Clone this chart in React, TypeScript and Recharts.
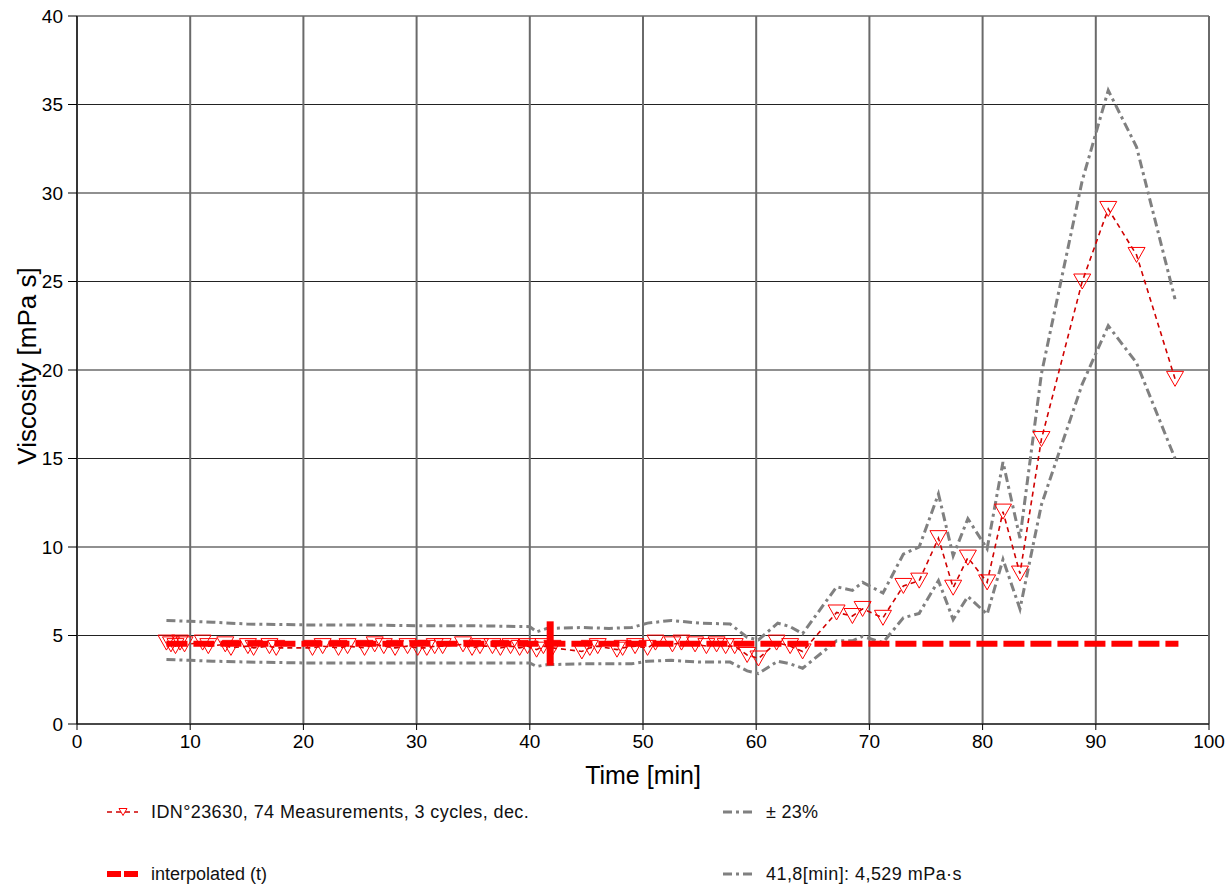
import React from 'react';
import { ComposedChart, Line, XAxis, YAxis, CartesianGrid, Label } from 'recharts';

// Measurements (time in min, viscosity in mPa s)
const measTime = [
  7.9, 8.3, 8.7, 9.1, 9.5, 11.1, 11.6, 13.1, 13.6, 15.1, 15.6, 17.0, 17.6,
  20.8, 21.7, 23.1, 23.9, 25.4, 26.3, 27.1, 28.1, 29.2, 30.1, 30.9,
  31.6, 32.3, 34.1, 34.9, 35.6, 36.7, 37.4, 38.3, 39.1, 39.8, 40.6, 41.2, 42.0,
  44.6, 45.3, 46.0, 47.7, 48.2, 49.3, 50.4, 51.1, 52.6, 53.4, 54.6, 55.6, 56.5, 57.3, 58.1,
  59.2, 60.2, 61.8, 63.0, 64.1,
  67.1, 68.5, 69.4, 71.2, 73.0, 74.4, 76.1, 77.4, 78.7, 80.4, 81.8, 83.3, 85.2, 88.8, 91.1, 93.6, 97.0,
];
const measVisc = [
  4.6, 4.5, 4.4, 4.6, 4.5, 4.6, 4.4, 4.5, 4.3, 4.4, 4.3, 4.4, 4.3,
  4.3, 4.4, 4.3, 4.4, 4.3, 4.5, 4.4, 4.3, 4.4, 4.3, 4.3,
  4.4, 4.4, 4.5, 4.3, 4.4, 4.4, 4.3, 4.4, 4.3, 4.4, 4.2, 4.4, 4.3,
  4.1, 4.3, 4.4, 4.2, 4.3, 4.4, 4.3, 4.6, 4.5, 4.6, 4.5, 4.4, 4.5, 4.4, 4.4,
  3.9, 3.7, 4.6, 4.4, 4.1,
  6.3, 6.1, 6.5, 6.0, 7.8, 8.1, 10.5, 7.7, 9.4, 8.0, 12.0, 8.5, 16.1, 25.0, 29.1, 26.5, 19.5,
];

// ± 23 % band
const bandTime = [
  7.9, 10, 12, 15, 20, 25, 30, 35, 40.0, 40.6, 41.5, 44.6, 47, 49, 50.4, 52.5, 55, 57.7,
  59.2, 60.2, 61.9, 63.0, 64.1, 67.1, 68.5, 69.4, 71.2, 73.0, 74.4, 76.1, 77.4, 78.7,
  80.4, 81.8, 83.3, 85.2, 88.8, 91.1, 93.6, 97.0,
];
const bandUpper = [
  5.85, 5.8, 5.75, 5.65, 5.6, 5.6, 5.55, 5.55, 5.5, 5.2, 5.4, 5.45, 5.4, 5.45, 5.7, 5.85, 5.7, 5.65,
  4.9, 4.75, 5.7, 5.5, 5.1, 7.75, 7.55, 8.0, 7.4, 9.6, 10.0, 13.0, 9.5, 11.6,
  9.9, 14.8, 10.5, 19.8, 30.7, 35.8, 32.6, 24.0,
];
const bandLower = [
  3.65, 3.6, 3.55, 3.5, 3.45, 3.45, 3.45, 3.45, 3.45, 3.25, 3.35, 3.4, 3.4, 3.4, 3.55, 3.6, 3.5, 3.5,
  3.0, 2.85, 3.55, 3.4, 3.15, 4.7, 4.7, 4.95, 4.6, 6.0, 6.25, 8.1, 5.9, 7.2,
  6.2, 9.3, 6.5, 12.4, 19.2, 22.5, 20.4, 15.0,
];

// interpolated (t)
const interpTime = [7.9, 97.3];
const interpVisc = [4.529, 4.529];

// marker at 41,8 min
const markerTime = [41.8, 41.8];
const markerVisc = [3.3, 5.8];

const xTicks = [0, 10, 20, 30, 40, 50, 60, 70, 80, 90, 100];
const yTicks = [0, 5, 10, 15, 20, 25, 30, 35, 40];

const measData = measTime.map((t, i) => ({ t, v: measVisc[i] }));
const upperData = bandTime.map((t, i) => ({ t, v: bandUpper[i] }));
const lowerData = bandTime.map((t, i) => ({ t, v: bandLower[i] }));
const interpData = interpTime.map((t, i) => ({ t, v: interpVisc[i] }));
const markerData = markerTime.map((t, i) => ({ t, v: markerVisc[i] }));

const FONT = '"Liberation Sans", Arial, sans-serif';

const Tri = (props: any) => {
  const { cx, cy, index } = props;
  if (cx == null || cy == null) return <g key={`n${index}`} />;
  return (
    <polygon
      key={`tri${index}`}
      points={`${cx - 8.5},${cy - 7.5} ${cx + 8.5},${cy - 7.5} ${cx},${cy + 7.5}`}
      fill="none"
      stroke="#ff0000"
      strokeWidth={1}
    />
  );
};

const YLab = (props: any) => {
  const vb = props.viewBox || { x: 0, y: 16, width: 77, height: 708 };
  const cx = vb.x + 27;
  const cy = vb.y + vb.height / 2 - 4;
  return (
    <text
      x={cx}
      y={cy}
      transform={`rotate(-90 ${cx} ${cy})`}
      textAnchor="middle"
      dominantBaseline="central"
      fontFamily={FONT}
      fontSize={26}
      fill="#000"
    >
      Viscosity [mPa s]
    </text>
  );
};

const XLab = (props: any) => {
  const vb = props.viewBox || { x: 77, y: 724, width: 1132, height: 163 };
  return (
    <text
      x={vb.x + vb.width / 2}
      y={vb.y + 51}
      textAnchor="middle"
      dominantBaseline="central"
      fontFamily={FONT}
      fontSize={25}
      fill="#000"
    >
      Time [min]
    </text>
  );
};

const LegendOverlay = () => (
  <svg width={1228} height={887} style={{ position: 'absolute', left: 0, top: 0, pointerEvents: 'none' }}>
    <g fontFamily={FONT} fontSize={18} fill="#111">
      {/* row 1 col 1 */}
      <line x1={107} y1={812} x2={138} y2={812} stroke="#d00000" strokeWidth={1.5} strokeDasharray="5 4" />
      <polygon points="119,808.5 127,808.5 123,815.5" fill="#fff" stroke="#ff0000" strokeWidth={1} />
      <text x={151} y={812} dominantBaseline="central" letterSpacing={0.4}>IDN°23630, 74 Measurements, 3 cycles, dec.</text>
      {/* row 1 col 2 */}
      <line x1={723} y1={812} x2={753} y2={812} stroke="#808080" strokeWidth={3} strokeDasharray="9 4 3 4" />
      <text x={766} y={812} dominantBaseline="central" letterSpacing={0.3}>± 23%</text>
      {/* row 2 col 1 */}
      <line x1={107} y1={874} x2={138} y2={874} stroke="#ff0000" strokeWidth={6} strokeDasharray="14 3 14" />
      <text x={151} y={874} dominantBaseline="central">interpolated (t)</text>
      {/* row 2 col 2 */}
      <line x1={723} y1={874} x2={753} y2={874} stroke="#808080" strokeWidth={3} strokeDasharray="9 4 3 4" />
      <text x={766} y={874} dominantBaseline="central" letterSpacing={0.45}>41,8[min]: 4,529 mPa·s</text>
    </g>
  </svg>
);

export default function App() {
  return (
    <div style={{ position: 'absolute', left: 0, top: 0, width: 1228, height: 887, background: '#fff' }}>
      <ComposedChart
        width={1228}
        height={887}
        margin={{ top: 16, right: 19, bottom: 0, left: 0 }}
      >
        <CartesianGrid vertical={false} stroke="#222" strokeWidth={1.2} />
        <CartesianGrid horizontal={false} stroke="#6a6a6a" strokeWidth={2} />
        <XAxis
          type="number"
          dataKey="t"
          domain={[0, 100]}
          ticks={xTicks}
          allowDataOverflow
          height={163}
          tickSize={6}
          tickMargin={5}
          stroke="#000"
          tick={{ fontFamily: FONT, fontSize: 19, fill: '#000' }}
        >
          <Label content={<XLab />} />
        </XAxis>
        <YAxis
          type="number"
          dataKey="v"
          domain={[0, 40]}
          ticks={yTicks}
          allowDataOverflow
          width={77}
          tickSize={9}
          tickMargin={5}
          stroke="#000"
          tick={{ fontFamily: FONT, fontSize: 19, fill: '#000' }}
        >
          <Label content={<YLab />} />
        </YAxis>
        <Line
          data={upperData}
          dataKey="v"
          type="linear"
          stroke="#808080"
          strokeWidth={3}
          strokeDasharray="9 4 3 4"
          dot={false}
          isAnimationActive={false}
        />
        <Line
          data={lowerData}
          dataKey="v"
          type="linear"
          stroke="#808080"
          strokeWidth={3}
          strokeDasharray="9 4 3 4"
          dot={false}
          isAnimationActive={false}
        />
        <Line
          data={measData}
          dataKey="v"
          type="linear"
          stroke="#d00000"
          strokeWidth={1.6}
          strokeDasharray="5 4"
          dot={<Tri />}
          isAnimationActive={false}
        />
        <Line
          data={interpData}
          dataKey="v"
          type="linear"
          stroke="#ff0000"
          strokeWidth={6}
          strokeDasharray="21 6"
          dot={false}
          isAnimationActive={false}
        />
        <Line
          data={markerData}
          dataKey="v"
          type="linear"
          stroke="#ff0000"
          strokeWidth={7}
          dot={false}
          isAnimationActive={false}
        />
      </ComposedChart>
      <LegendOverlay />
    </div>
  );
}
